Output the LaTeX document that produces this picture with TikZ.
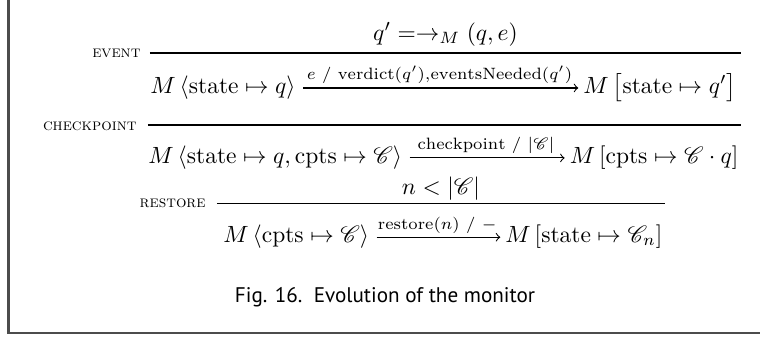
\documentclass[tikz,border=0pt]{standalone}
\usepackage{fontspec}
\usepackage{mathrsfs}
\newfontfamily\capfont{PT Sans}
\begin{document}
\begin{tikzpicture}[
        judg/.style={inner sep=0pt},
        rname/.style={inner sep=0pt, anchor=east, font=\scriptsize\scshape},
        arrlbl/.style={above, inner sep=1.5pt, font=\scriptsize},
        infline/.style={line width=0.45pt},
        trans/.style={->, line width=0.45pt, shorten <=3pt, shorten >=2pt}]
        \useasboundingbox (0,0) rectangle (11.37,5.042);

        % frame of the figure
        \draw[black!70, line width=0.9pt] (0.127,5.042) -- (0.127,0.06) -- (11.37,0.06);

        % event
        \coordinate (ev1) at (2.244,4.249);
        \coordinate (ev2) at (11.085,4.249);
        \draw[infline] (ev1) to (ev2);
        \node[rname] (evName) at (2.109,4.249){event};
        \node[judg, anchor=base] (evPrem) at (6.665,4.443){$q' = \rightarrow_{M} (q, e)$};
        \node[judg, anchor=base west] (evL) at (2.244,3.650){$M\,\langle \mathrm{state} \mapsto q \rangle$};
        \node[judg, anchor=base east] (evR) at (11.025,3.650){$M\,\bigl[\mathrm{state} \mapsto q'\bigr]$};
        \draw[trans] (evL.mid east) to node[arrlbl] (evLbl){$e \ / \ \mathrm{verdict}(q'){,}\mathrm{eventsNeeded}(q')$} (evR.mid west);

        % checkpoint
        \coordinate (cp1) at (2.214,3.172);
        \coordinate (cp2) at (11.085,3.172);
        \draw[infline] (cp1) to (cp2);
        \node[rname] (cpName) at (2.050,3.157){checkpoint};
        \node[judg, anchor=base west] (cpL) at (2.214,2.603){$M\,\langle \mathrm{state} \mapsto q, \mathrm{cpts} \mapsto \mathscr{C} \rangle$};
        \node[judg, anchor=base east] (cpR) at (11.055,2.603){$M\,[\mathrm{cpts} \mapsto \mathscr{C} \cdot q]$};
        \draw[trans] (cpL.mid east) to node[arrlbl] (cpLbl){$\mathrm{checkpoint} \ / \ |\mathscr{C}|$} (cpR.mid west);

        % restore
        \coordinate (rs1) at (3.246,1.995);
        \coordinate (rs2) at (9.948,1.995);
        \draw[infline] (rs1) to (rs2);
        \node[rname] (rsName) at (3.082,1.995){restore};
        \node[judg, anchor=base] (rsPrem) at (6.597,2.130){$n < |\mathscr{C}|$};
        \node[judg, anchor=base west] (rsL) at (3.336,1.417){$M\,\langle \mathrm{cpts} \mapsto \mathscr{C} \rangle$};
        \node[judg, anchor=base east] (rsR) at (9.918,1.417){$M\,[\mathrm{state} \mapsto \mathscr{C}_{n}]$};
        \draw[trans] (rsL.mid east) to node[arrlbl] (rsLbl){$\mathrm{restore}(n) \ / \ -$} (rsR.mid west);

        \node[anchor=base] (figCap) at (5.76,0.509){\capfont\small Fig. 16.\ \ Evolution of the monitor};
    \end{tikzpicture}
\end{document}
